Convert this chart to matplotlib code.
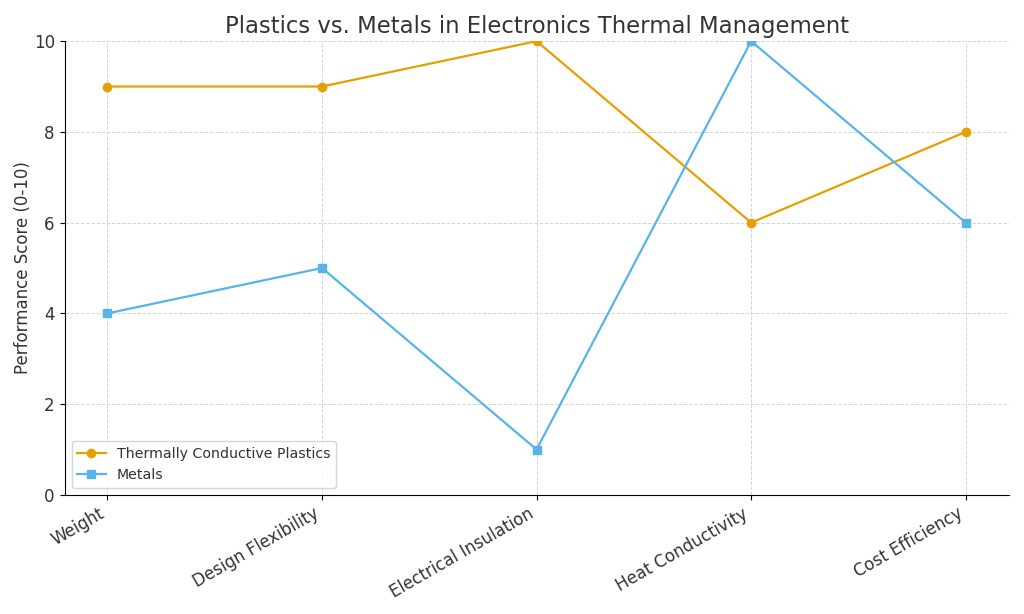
import matplotlib
matplotlib.use("Agg")
import matplotlib.pyplot as plt

categories = ["Weight", "Design Flexibility", "Electrical Insulation",
              "Heat Conductivity", "Cost Efficiency"]
plastics = [9, 9, 10, 6, 8]
metals = [4, 5, 1, 10, 6]

fig, ax = plt.subplots(figsize=(10.24, 6.14), dpi=100)

x = range(len(categories))
ax.plot(x, plastics, marker="o", color="#E69F00", linewidth=1.6, markersize=6,
        label="Thermally Conductive Plastics")
ax.plot(x, metals, marker="s", color="#56B4E9", linewidth=1.6, markersize=6,
        label="Metals")

ax.set_title("Plastics vs. Metals in Electronics Thermal Management",
             fontsize=16.4, color="#333333")
ax.set_ylabel("Performance Score (0-10)", fontsize=12, color="#333333", labelpad=1)
ax.set_ylim(0, 10)
ax.set_xticks(list(x))
ax.set_xticklabels(categories, rotation=30, ha="right", fontsize=12, color="#333333")
ax.tick_params(axis="y", labelsize=12, labelcolor="#333333")
ax.grid(True, linestyle="--", color="#d5d5d5", linewidth=0.7)
ax.spines["top"].set_visible(False)
ax.spines["right"].set_visible(False)
ax.legend(loc="lower left", fontsize=10.2, labelcolor="#333333")

fig.subplots_adjust(left=0.063, right=0.985, top=0.933, bottom=0.194)
fig.savefig("out.png", dpi=100)
